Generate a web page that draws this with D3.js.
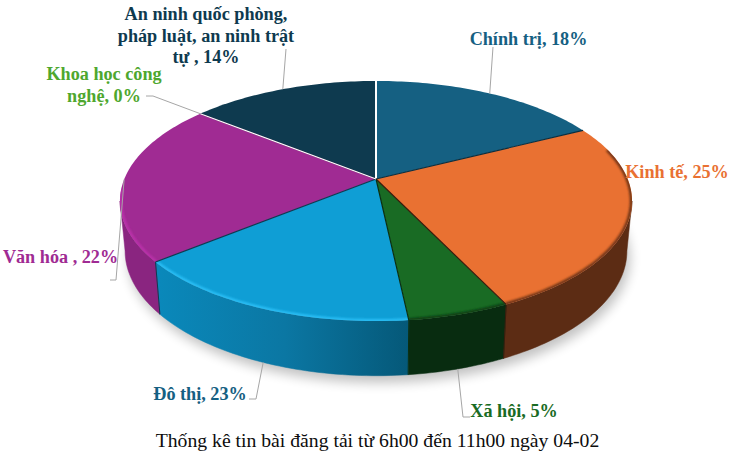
<!DOCTYPE html>
<html>
<head>
<meta charset="utf-8">
<script src="https://cdn.jsdelivr.net/npm/d3@7"></script>
<style>
body { margin: 0; background: #fff; }
text { font-family: "Liberation Serif", serif; }
</style>
</head>
<body>
<div id="chart"></div>
<script>
var width = 736;
var height = 469;

// slice shares as drawn (the printed percents do not add up to 100)
var categories = ['Chính trị', 'Kinh tế', 'Xã hội', 'Đô thị', 'Văn hóa', 'Khoa học công nghệ', 'An ninh quốc phòng, pháp luật, an ninh trật tự'];
var shares = [17.5, 25.4, 5.4, 15.8, 21.7, 0, 14.2];
var printed = ['Chính trị, 18%', 'Kinh tế, 25%', 'Xã hội, 5%', 'Đô thị, 23%', 'Văn hóa , 22%', 'Khoa học công nghệ, 0%', 'An ninh quốc phòng, pháp luật, an ninh trật tự , 14%'];
var title = 'Thống kê tin bài đăng tải từ 6h00 đến 11h00 ngày 04-02';

var topColors = ['#156082', '#E97132', '#196B24', '#0F9ED5', '#A02B93', '#4EA72E', '#0E3A4F'];
var labelColors = ['#156082', '#E97132', '#196B24', '#156082', '#A02B93', '#4EA72E', '#0E3A4F'];
var sideColors = ['#0c3a4e', '#5C2C14', '#082C10', 'url(#blueSide)', '#8A2580', '#2f641c', '#08222f'];
var rimColors = [null, '#6b3216', '#0b3a14', '#2BC0F7', '#BC33AC', null, null];
var seamColors = ['#0b2e3f', '#3a1c0c', '#0a2f10', '#0a3c52', '#4d1247', '#fff', '#fff'];

var svg = d3.select('#chart').append('svg').attr('width', width).attr('height', height);
var defs = svg.append('defs');

var soft = defs.append('filter').attr('id', 'soft').attr('x', '-10%').attr('y', '-10%').attr('width', '120%').attr('height', '120%');
soft.append('feGaussianBlur').attr('stdDeviation', 6);
var rimBlur = defs.append('filter').attr('id', 'rimBlur').attr('filterUnits', 'userSpaceOnUse')
    .attr('x', 0).attr('y', 0).attr('width', width).attr('height', height);
rimBlur.append('feGaussianBlur').attr('stdDeviation', 1.2);

var blueSide = defs.append('linearGradient').attr('id', 'blueSide')
    .attr('gradientUnits', 'userSpaceOnUse').attr('x1', 160).attr('x2', 410).attr('y1', 0).attr('y2', 0);
blueSide.append('stop').attr('offset', '0%').attr('stop-color', '#0A88BA');
blueSide.append('stop').attr('offset', '50%').attr('stop-color', '#0B77A3');
blueSide.append('stop').attr('offset', '100%').attr('stop-color', '#055878');

// perspective view of the pie: apex, half width and the tilt of the disc
var cx = 376, cy = 179;
var radiusX = 251.7, radiusY = 116, tilt = -0.1833;
var bottomScaleX = 0.98, bottomScaleY = 1.04, bottomY = 228;

function project(a) {
    var u = Math.sin(a), v = -Math.cos(a), d = 1 + tilt * v;
    return [radiusX * u / d, radiusY * v / d];
}
function topPoint(a) {
    var p = project(a);
    return [cx + p[0], cy + p[1]];
}
function bottomPoint(a) {
    var p = project(a);
    return [cx + bottomScaleX * p[0], bottomY + bottomScaleY * p[1]];
}
function arcPoints(fn, a0, a1) {
    var n = Math.max(1, Math.ceil((a1 - a0) / 0.02));
    return d3.range(n + 1).map(function(i) { return fn(a0 + (a1 - a0) * i / n); });
}

var line = d3.line();
var pie = d3.pie().sort(null).value(function(d) { return d; });
var arcs = pie(shares);

// silhouette of the disc, the side wall only shows between these two angles
var sideStart = Math.acos(tilt);
var sideEnd = 2 * Math.PI - sideStart;

// shadow
svg.append('path')
    .attr('d', line(arcPoints(bottomPoint, 0, 2 * Math.PI)) + 'Z')
    .attr('transform', 'translate(3,7)')
    .attr('fill', '#000').attr('opacity', 0.24).attr('filter', 'url(#soft)');

// side walls
var sides = svg.append('g').attr('class', 'sides');
arcs.forEach(function(d, i) {
    var a0 = Math.max(d.startAngle, sideStart);
    var a1 = Math.min(d.endAngle, sideEnd);
    if (a1 <= a0) return;
    var pts = arcPoints(topPoint, a0, a1).concat(arcPoints(bottomPoint, a0, a1).reverse());
    sides.append('path').attr('d', line(pts) + 'Z').attr('fill', sideColors[i])
        .attr('stroke', sideColors[i]).attr('stroke-width', 0.5);
    // seam at the right hand edge of the wall
    if (d.startAngle > sideStart) {
        sides.append('line')
            .attr('x1', topPoint(a0)[0]).attr('y1', topPoint(a0)[1])
            .attr('x2', bottomPoint(a0)[0]).attr('y2', bottomPoint(a0)[1])
            .attr('stroke', seamColors[i - 1]).attr('stroke-width', 1);
    }
});

// top faces
var faces = svg.append('g').attr('class', 'faces');
arcs.forEach(function(d, i) {
    if (d.endAngle <= d.startAngle) return;
    var pts = [[cx, cy]].concat(arcPoints(topPoint, d.startAngle, d.endAngle));
    faces.append('path').attr('d', line(pts) + 'Z').attr('fill', topColors[i]);

    if (rimColors[i]) {
        var clipId = 'clip' + i;
        defs.append('clipPath').attr('id', clipId).append('path').attr('d', line(pts) + 'Z');
        var a0 = Math.max(d.startAngle, sideStart - 0.45);
        var a1 = Math.min(d.endAngle, sideEnd + 0.1);
        faces.append('g').attr('clip-path', 'url(#' + clipId + ')')
            .append('path')
            .attr('d', line(arcPoints(function(a) {
                var p = project(a);
                return [cx + 0.997 * p[0], cy + 0.997 * p[1]];
            }, a0, a1)))
            .attr('fill', 'none').attr('stroke', rimColors[i]).attr('stroke-width', 3)
            .attr('filter', 'url(#rimBlur)');
    }
});

// seams between the faces
arcs.forEach(function(d, i) {
    var p = topPoint(d.startAngle);
    var prev = (i + arcs.length - 1) % arcs.length;
    var isGap = d.startAngle === 0;
    faces.append('line').attr('x1', cx).attr('y1', cy).attr('x2', p[0]).attr('y2', p[1])
        .attr('stroke', isGap ? '#fff' : seamColors[prev])
        .attr('stroke-width', isGap ? 2 : 1.2);
});

// leader lines, anchored on the middle of the slice
// layout: rim the leader starts from, then the bend(s) out to the label
var leaderRim = ['top', null, 'bottom', 'bottom', 'top', 'top', 'top'];
var leaderPath = [
    [[493, 47]],
    null,
    [[463, 417], [470, 417]],
    [[256, 399], [249, 399]],
    [[116, 280], [110, 280]],
    [[153, 96], [146, 96]],
    [[286, 49]]
];
var leaders = svg.append('g').attr('class', 'leaders');
arcs.forEach(function(d, i) {
    if (!leaderPath[i]) return;
    var mid = (d.startAngle + d.endAngle) / 2;
    var start = leaderRim[i] === 'top' ? topPoint(mid) : bottomPoint(mid);
    leaders.append('path').attr('d', line([start].concat(leaderPath[i])))
        .attr('fill', 'none').attr('stroke', '#A6A6A6').attr('stroke-width', 1);
});

// labels, one row per line of the wrapped text
var labelLines = [
    [printed[0]],
    [printed[1]],
    [printed[2]],
    [printed[3]],
    [printed[4]],
    ['Khoa học công', 'nghệ, 0%'],
    ['An ninh quốc phòng,', 'pháp luật, an ninh trật', 'tự , 14%']
];
var labelPos = [[528.5, 45], [677, 178], [514, 417], [200, 400], [60.5, 263], [104, 80], [206, 20]];
var labelSize = 18.2;
var labelLeading = 21.5;
var labels = svg.append('g').attr('class', 'labels');
labelLines.forEach(function(rows, i) {
    var t = labels.append('text').attr('text-anchor', 'middle')
        .attr('font-size', labelSize).attr('font-weight', 'bold').attr('fill', labelColors[i]);
    rows.forEach(function(r, j) {
        t.append('tspan').attr('x', labelPos[i][0]).attr('y', labelPos[i][1] + j * labelLeading).text(r);
    });
});

svg.append('text').attr('x', 377.5).attr('y', 447).attr('text-anchor', 'middle')
    .attr('font-size', 19.7).attr('fill', '#0d0d0d').text(title);
</script>
</body>
</html>
